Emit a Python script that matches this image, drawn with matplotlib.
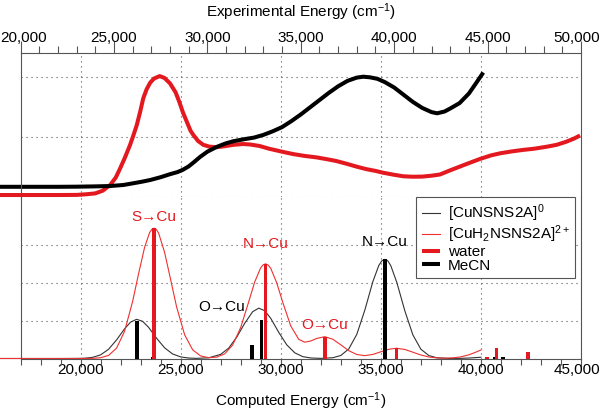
import matplotlib
matplotlib.use("Agg")
import matplotlib.pyplot as plt
from matplotlib.ticker import MultipleLocator, StrMethodFormatter
from matplotlib.transforms import ScaledTranslation

plt.rcParams["font.family"] = ["Liberation Sans", "DejaVu Sans"]
plt.rcParams["mathtext.default"] = "regular"

# experimental spectra (top axis, cm-1) -- absorbance in grid units
mecn_E = [18900, 20000, 21000, 22000, 23000, 24000, 24800, 25500, 26000, 26500,
          26940, 27500, 28000, 28400, 28700, 29000, 29300, 29600, 30000, 30500,
          31000, 31400, 32000, 32500, 33000, 33500, 34000, 34500, 35000, 35500,
          36000, 36500, 37000, 37500, 38000, 38350, 38700, 39100, 39500, 40000,
          40500, 41000, 41500, 42000, 42300, 42700, 43000, 43500, 44000, 44400,
          44770]
mecn_A = [0.165, 0.165, 0.165, 0.165, 0.167, 0.172, 0.178, 0.195, 0.222, 0.25,
          0.278, 0.325, 0.375, 0.41, 0.45, 0.505, 0.58, 0.66, 0.75, 0.83,
          0.89, 0.925, 0.96, 0.985, 1.03, 1.09, 1.16, 1.26, 1.37, 1.49,
          1.61, 1.73, 1.84, 1.93, 1.985, 2.0, 1.99, 1.965, 1.91, 1.82,
          1.70, 1.58, 1.48, 1.41, 1.39, 1.42, 1.47, 1.56, 1.72, 1.90,
          2.07]

water_E = [18900, 20000, 22000, 23000, 23500, 24000, 24400, 24800, 25100, 25330,
           25600, 25860, 26050, 26220, 26400, 26570, 26750, 26940, 27150, 27450,
           27700, 28000, 28300, 28500, 28700, 28900, 29100, 29250, 29500, 29780,
           30100, 30500, 30900, 31400, 31900, 32300, 32800, 33300, 34000, 34600,
           35200, 35850, 36400, 36900, 37500, 38000, 38500, 39000, 39400, 40000,
           40500, 41000, 41500, 42000, 42450, 43000, 43500, 44000, 44600, 45200,
           45700, 46300, 46900, 47500, 48200, 48700, 49200, 49600, 49950]
water_A = [0.028, 0.028, 0.028, 0.03, 0.04, 0.055, 0.10, 0.195, 0.32, 0.47,
           0.66, 0.86, 1.03, 1.19, 1.41, 1.64, 1.79, 1.90, 1.97, 2.01,
           1.98, 1.89, 1.74, 1.58, 1.40, 1.25, 1.10, 1.03, 0.93, 0.865,
           0.835, 0.825, 0.84, 0.865, 0.878, 0.87, 0.845, 0.80, 0.75, 0.71,
           0.68, 0.655, 0.625, 0.595, 0.545, 0.50, 0.46, 0.43, 0.40, 0.365,
           0.34, 0.333, 0.335, 0.35, 0.37, 0.44, 0.50, 0.56, 0.63, 0.69,
           0.725, 0.755, 0.78, 0.80, 0.835, 0.865, 0.915, 0.965, 1.02]

# computed spectra (bottom axis, cm-1)
neu_E = [16000, 19000, 19800, 20200, 20600, 21000, 21400, 21800, 22200, 22500,
         22800, 23100, 23400, 23800, 24200, 24600, 25000, 25400, 25800, 26400,
         27000, 27400, 27800, 28200, 28600, 28900, 29200, 29500, 29900, 30300,
         30700, 31100, 31500, 32000, 32600, 33000, 33400, 33800, 34200, 34600,
         34900, 35050, 35200, 35350, 35500, 35800, 36200, 36600, 37000, 37400,
         37800, 38400, 39000, 39500, 40000]
neu_f = [0, 0, 0.002, 0.007, 0.030, 0.095, 0.243, 0.489, 0.782, 0.958,
         1.031, 0.979, 0.819, 0.533, 0.280, 0.119, 0.042, 0.012, 0.004, 0.018,
         0.109, 0.274, 0.561, 0.926, 1.233, 1.325, 1.258, 1.058, 0.689, 0.360,
         0.150, 0.049, 0.014, 0.003, 0.020, 0.079, 0.252, 0.636, 1.272, 2.019,
         2.450, 2.57, 2.610, 2.57, 2.440, 2.001, 1.254, 0.623, 0.245, 0.077,
         0.019, 0.002, 0.004, 0.015, 0.033]

dic_E = [16000, 19000, 20000, 20600, 21000, 21400, 21800, 22200, 22600, 22900,
         23200, 23450, 23560, 23670, 23780, 23900, 24200, 24500, 24800, 25200,
         25600, 26000, 26400, 26800, 27200, 27600, 28000, 28400, 28700, 29000,
         29120, 29240, 29370, 29500, 29800, 30100, 30500, 30900, 31200, 31500,
         31800, 32200, 32600, 33000, 33400, 33800, 34200, 34600, 35000, 35400,
         35780, 36200, 36600, 37000, 37400, 37800, 38200, 38600, 39000, 39400,
         39700, 40000]
dic_f = [0, 0, 0.0002, 0.004, 0.020, 0.082, 0.273, 0.718, 1.499, 2.236,
         2.926, 3.314, 3.40, 3.43, 3.40, 3.30, 2.79, 2.076, 1.354, 0.624,
         0.228, 0.067, 0.022, 0.036, 0.122, 0.354, 0.816, 1.492, 2.015, 2.388,
         2.464, 2.491, 2.46, 2.374, 1.992, 1.479, 0.857, 0.504, 0.429, 0.461,
         0.528, 0.574, 0.507, 0.36, 0.205, 0.105, 0.075, 0.107, 0.176, 0.243,
         0.27, 0.238, 0.166, 0.092, 0.040, 0.015, 0.008, 0.016, 0.043, 0.097,
         0.157, 0.223]

# oscillator strengths (sticks)
neu_stick_E = [22800, 23600, 28570, 29040, 35200, 40700, 41120]
neu_stick_f = [1.0, 0.05, 0.355, 1.01, 2.61, 0.03, 0.03]
dic_stick_E = [23670, 29240, 32200, 35780, 40300, 40770, 42350]
dic_stick_f = [3.43, 2.49, 0.57, 0.27, 0.05, 0.27, 0.16]

# band labels: (text, x, y, colour)
labels = [("S→Cu", 23670, 3.73, "red"), ("N→Cu", 29240, 3.01, "red"),
          ("O→Cu", 27050, 1.35, "black"), ("O→Cu", 32200, 0.88, "red"),
          ("N→Cu", 35200, 3.07, "black")]

RED = "#e3191f"
FRAME = "#555555"
GRID = dict(color="#555555", linestyle=(0, (1, 3.5)), linewidth=0.8)

W, H = 600, 411


def box(x0, y0, x1, y1):
    """pixel box (top-left origin) -> figure fraction rect"""
    return [x0 / W, 1 - y1 / H, (x1 - x0) / W, (y1 - y0) / H]


fig = plt.figure(figsize=(6, 4.11), dpi=100)
ax_top = fig.add_axes(box(20.5, 53, 581, 197))
ax_bot = fig.add_axes(box(20.5, 197, 581, 358.5))

# --- top panel: grid on the computed scale, data on the experimental scale
ax_top.set_xlim(17000, 45000)
ax_top.set_ylim(-0.005, 2.395)
ax_top.set_xticks([20000, 25000, 30000, 35000, 40000])
ax_top.set_yticks([0, 1, 2])
ax_top.grid(True, **GRID)
ax_top.tick_params(bottom=False, left=False, labelbottom=False, labelleft=False)
for s in ax_top.spines.values():
    s.set_visible(False)

ax_exp = ax_top.twiny()
ax_exp.set_xlim(20000, 50000)
ax_exp.xaxis.set_major_locator(MultipleLocator(5000))
ax_exp.xaxis.set_minor_locator(MultipleLocator(1000))
ax_exp.xaxis.set_major_formatter(StrMethodFormatter("{x:,.0f}"))
ax_exp.tick_params(which="major", direction="out", length=9, width=0.8, color=FRAME,
                   labelsize=11, pad=-3)
ax_exp.tick_params(which="minor", direction="out", length=5, width=0.8, color=FRAME)
for name, s in ax_exp.spines.items():
    s.set_color(FRAME)
    s.set_linewidth(0.8)
ax_exp.spines["bottom"].set_visible(False)
ax_exp.set_xlabel("Experimental Energy (cm$^{-1}$)", fontsize=11, va="center")
ax_exp.xaxis.set_label_coords(0.5, 1 + (53 - 12) / 144)

l_water, = ax_exp.plot(water_E, water_A, color=RED, lw=2.9, clip_on=False,
                       solid_capstyle="butt", label="water")
l_mecn, = ax_exp.plot(mecn_E, mecn_A, color="black", lw=2.9, clip_on=False,
                      solid_capstyle="butt", label="MeCN")

# --- bottom panel: computed spectra
ax_bot.set_xlim(17000, 45000)
ax_bot.set_ylim(0, 4.25)
ax_bot.xaxis.set_major_locator(MultipleLocator(5000))
ax_bot.xaxis.set_minor_locator(MultipleLocator(1000))
ax_bot.xaxis.set_major_formatter(StrMethodFormatter("{x:,.0f}"))
ax_bot.set_yticks([1, 2, 3])
ax_bot.grid(True, **GRID)
ax_bot.tick_params(left=False, labelleft=False)
ax_bot.tick_params(axis="x", which="major", direction="out", length=6, width=0.8,
                   color=FRAME, labelsize=11, pad=-2.5)
ax_bot.tick_params(axis="x", which="minor", direction="out", length=4, width=0.8,
                   color=FRAME)
for s in ax_bot.spines.values():
    s.set_color(FRAME)
    s.set_linewidth(0.8)
ax_bot.spines["top"].set_visible(False)
ax_bot.set_xlabel("Computed Energy (cm$^{-1}$)", fontsize=11, labelpad=9.5)

l_neu, = ax_bot.plot(neu_E, neu_f, color="#333333", lw=0.8, clip_on=False,
                     label="[CuNSNS2A]$^0$")
l_dic, = ax_bot.plot(dic_E, dic_f, color="#ee3030", lw=0.8, clip_on=False,
                     label="[CuH$_2$NSNS2A]$^{2+}$")
ax_bot.bar(neu_stick_E, neu_stick_f, width=190, color="black", zorder=3)
ax_bot.bar(dic_stick_E, dic_stick_f, width=180, color=RED, zorder=4)

for txt, x, y, c in labels:
    ax_bot.text(x, y, txt, color=RED if c == "red" else "black", fontsize=11,
                ha="center", va="center", zorder=5)

leg = ax_bot.legend(handles=[l_neu, l_dic, l_water, l_mecn], loc="upper right",
                    bbox_to_anchor=(0.99, 1.0), fontsize=11, fancybox=False,
                    edgecolor=FRAME, framealpha=1, borderaxespad=0,
                    handlelength=1.2, handletextpad=0.5, labelspacing=-0.02,
                    borderpad=0.35)
leg.get_frame().set_linewidth(0.8)
leg.set_zorder(10)

# keep the outermost tick labels inside the picture
fig.canvas.draw()


def nudge(axis, value, dx_px):
    for t in axis.get_major_ticks():
        if abs(t.get_loc() - value) < 1:
            for lbl in (t.label1, t.label2):
                lbl.set_transform(lbl.get_transform()
                                  + ScaledTranslation(dx_px / 100, 0, fig.dpi_scale_trans))


nudge(ax_exp.xaxis, 20000, 3)
nudge(ax_exp.xaxis, 50000, -4.5)
nudge(ax_bot.xaxis, 45000, -4.5)

fig.savefig("out.png", dpi=100)
